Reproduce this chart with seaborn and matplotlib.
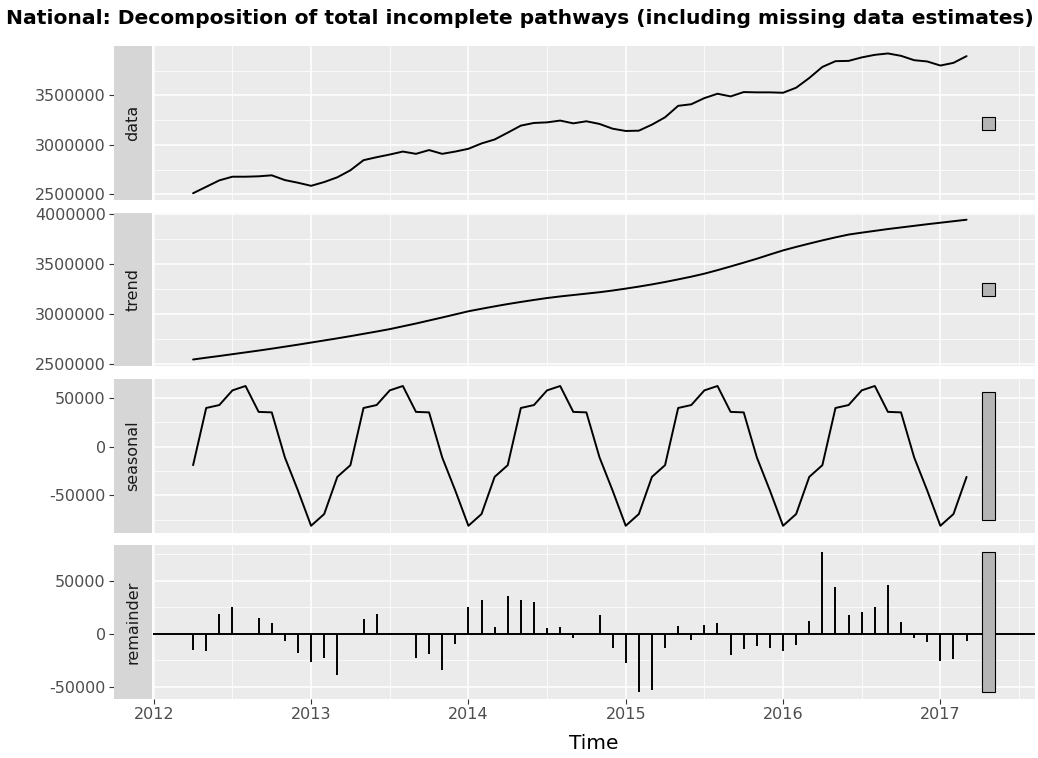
import matplotlib
matplotlib.use("Agg")
import numpy as np
import pandas as pd
import matplotlib.pyplot as plt
from matplotlib.patches import Rectangle
from matplotlib.ticker import MultipleLocator, FuncFormatter
import seaborn as sns

# monthly series, April 2012 .. March 2017
start_year = 2012
start_month = 4
title = "National: Decomposition of total incomplete pathways (including missing data estimates)"
panel_names = ["data", "trend", "seasonal", "remainder"]

data_vals = [
    2512000, 2577000, 2642000, 2679000, 2679000, 2683000, 2693000, 2645000, 2618000,
    2587000, 2625000, 2673000, 2744000, 2846000, 2876000, 2903000, 2933000, 2910000, 2948000, 2910000, 2933000,
    2961000, 3015000, 3055000, 3124000, 3195000, 3222000, 3228000, 3246000, 3218000, 3239000, 3212000, 3164000,
    3141000, 3144000, 3205000, 3279000, 3395000, 3411000, 3473000, 3517000, 3490000, 3534000, 3531000, 3531000,
    3527000, 3578000, 3676000, 3788000, 3846000, 3849000, 3884000, 3910000, 3924000, 3900000, 3856000, 3843000,
    3802000, 3829000, 3897000,
]
trend_vals = [
    2547000, 2565000, 2582000, 2600000, 2618000, 2636000, 2655000, 2675000, 2695000,
    2716000, 2737000, 2758000, 2780000, 2803000, 2826000, 2850000, 2878000, 2906000, 2936000, 2966000, 2997000,
    3028000, 3053000, 3077000, 3100000, 3121000, 3141000, 3160000, 3176000, 3190000, 3204000, 3218000, 3235000,
    3254000, 3274000, 3296000, 3320000, 3346000, 3373000, 3403000, 3438000, 3475000, 3513000, 3552000, 3594000,
    3635000, 3670000, 3703000, 3735000, 3765000, 3793000, 3812000, 3830000, 3848000, 3864000, 3880000, 3896000,
    3911000, 3926000, 3941000,
]
seasonal_vals = [
    -19000, 39500, 42500, 57500, 62000, 35500, 35000, -11000, -45000,
    -81000, -69000, -31000, -19000, 39500, 42500, 57500, 62000, 35500, 35000, -11000, -45000,
    -81000, -69000, -31000, -19000, 39500, 42500, 57500, 62000, 35500, 35000, -11000, -45000,
    -81000, -69000, -31000, -19000, 39500, 42500, 57500, 62000, 35500, 35000, -11000, -45000,
    -81000, -69000, -31000, -19000, 39500, 42500, 57500, 62000, 35500, 35000, -11000, -45000,
    -81000, -69000, -31000,
]
remainder_vals = [
    -15600, -16300, 18800, 25000, 900, 15000, 10000, -6900, -18100,
    -26600, -22800, -38800, -600, 14100, 18400, 1200, -300, -22800, -19100, -33800, -10000,
    25000, 31900, 6300, 35300, 31300, 30300, 5600, 6300, -3800, -600, 17500, -13400,
    -27500, -54700, -53200, -13100, 7500, -5600, 7800, 10600, -20300, -14700, -11900, -13400,
    -16300, -10300, 12200, 76600, 43800, 17200, 20300, 25000, 46300, 10900, -3800, -7800,
    -25600, -23800, -6900,
]

n = len(data_vals)
df = pd.DataFrame({
    "time": start_year + (start_month - 1 + np.arange(n)) / 12.0,
    "data": data_vals,
    "trend": trend_vals,
    "seasonal": seasonal_vals,
    "remainder": remainder_vals,
})

sns.set_theme(style="darkgrid", rc={
    "axes.facecolor": "#EBEBEB",
    "grid.color": "white",
    "axes.edgecolor": "none",
})
plt.rcParams["font.family"] = ["DejaVu Sans"]

fig, axes = plt.subplots(4, 1, figsize=(10.38, 7.58), dpi=100, sharex=True)
fig.subplots_adjust(left=0.1474, right=0.9971, top=0.9387, bottom=0.0778, hspace=0.0813)

# range bars all share the smallest panel range (as in autoplot.stl)
ranges = [df[c].max() - df[c].min() for c in panel_names]
bar_len = min(ranges)
bar_x = df["time"].iloc[-1] + 0.14
bar_w = 0.08

ax_w_px = 0.9971 * 1038 - 0.1474 * 1038

for ax, col in zip(axes, panel_names):
    if col == "remainder":
        ax.vlines(df["time"], 0, df[col], color="black", linewidth=1.4)
        ax.axhline(0, color="black", linewidth=1.4)
    else:
        sns.lineplot(data=df, x="time", y=col, ax=ax, color="black", linewidth=1.4)
    mid = (df[col].max() + df[col].min()) / 2
    ax.add_patch(Rectangle((bar_x - bar_w / 2, mid - bar_len / 2), bar_w, bar_len,
                           facecolor="#B5B5B5", edgecolor="black", linewidth=0.8, zorder=3))

    ax.set_facecolor("#EBEBEB")
    ax.set_ylabel("")
    ax.set_xlabel("")
    for s in ax.spines.values():
        s.set_visible(False)
    ax.spines["left"].set_position(("outward", 28))

    step = 500000 if col in ("data", "trend") else 50000
    ax.yaxis.set_major_locator(MultipleLocator(step))
    ax.yaxis.set_minor_locator(MultipleLocator(step / 2))
    ax.yaxis.set_major_formatter(FuncFormatter(lambda v, p: f"{int(round(v))}"))
    ax.xaxis.set_major_locator(MultipleLocator(1))
    ax.xaxis.set_minor_locator(MultipleLocator(0.5))
    ax.grid(which="major", color="white", linewidth=1.1)
    ax.grid(which="minor", color="white", linewidth=0.55)
    ax.set_axisbelow(True)
    ax.tick_params(axis="y", which="major", left=True, length=3.6, width=0.8, color="#333333",
                   labelsize=11.5, labelcolor="#4D4D4D", pad=2.5)
    ax.tick_params(axis="x", which="major", bottom=True, length=3.6, width=0.8, color="#333333",
                   labelsize=11.5, labelcolor="#4D4D4D", pad=2.5)
    ax.tick_params(which="minor", length=0)

    # strip on the left of each panel
    strip = Rectangle((-39 / ax_w_px, 0), 38 / ax_w_px, 1, transform=ax.transAxes,
                      facecolor="#D6D6D6", edgecolor="none", clip_on=False)
    ax.add_artist(strip)
    ax.text(-20 / ax_w_px, 0.5, col, transform=ax.transAxes, rotation=90,
            ha="center", va="center", fontsize=11.5, color="#1A1A1A")

for ax in axes[:-1]:
    ax.tick_params(axis="x", which="major", bottom=False, labelbottom=False)

axes[-1].set_xlabel("Time", fontsize=14.5, color="black", labelpad=8)

fig.text(6 / 1038, 1 - 18 / 758, title, fontsize=14.6, fontweight="bold",
         ha="left", va="center", color="black")

fig.savefig("out.png", dpi=100)
